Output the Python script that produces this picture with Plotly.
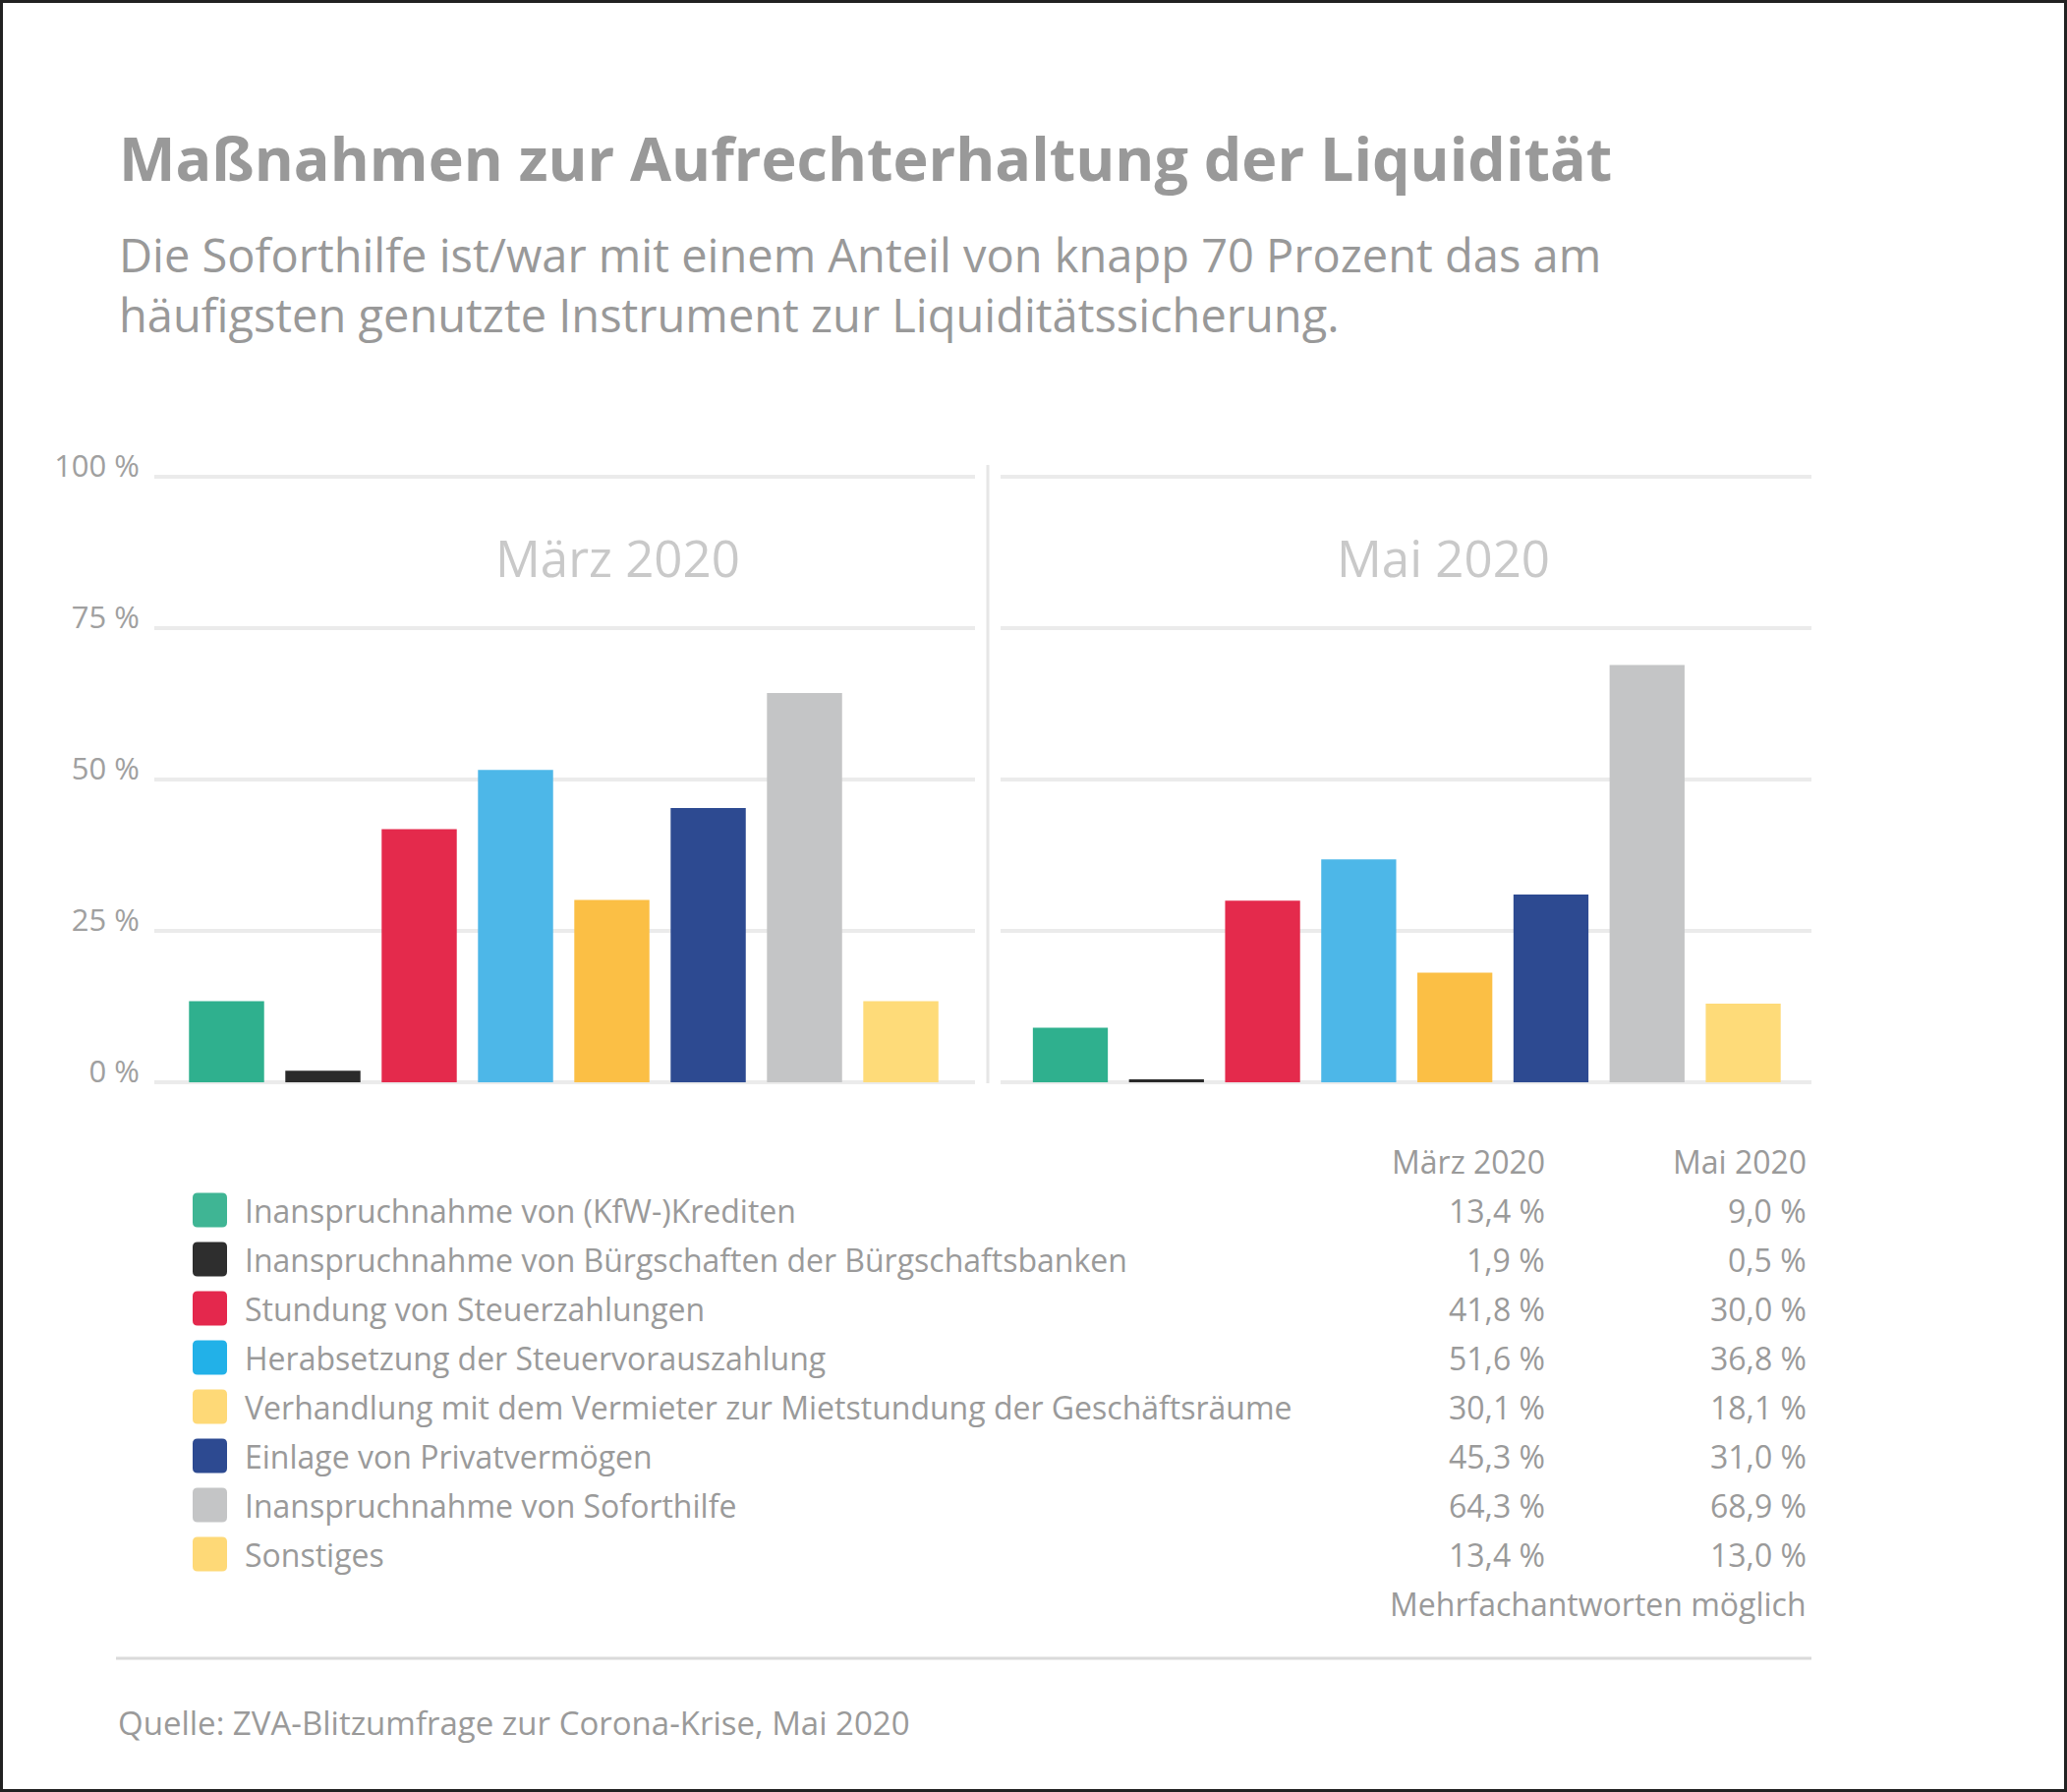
import plotly.graph_objects as go

W, H = 2103, 1823

categories = [
    "Inanspruchnahme von (KfW-)Krediten",
    "Inanspruchnahme von Bürgschaften der Bürgschaftsbanken",
    "Stundung von Steuerzahlungen",
    "Herabsetzung der Steuervorauszahlung",
    "Verhandlung mit dem Vermieter zur Mietstundung der Geschäftsräume",
    "Einlage von Privatvermögen",
    "Inanspruchnahme von Soforthilfe",
    "Sonstiges",
]
maerz_2020 = [13.4, 1.9, 41.8, 51.6, 30.1, 45.3, 64.3, 13.4]
mai_2020 = [9.0, 0.5, 30.0, 36.8, 18.1, 31.0, 68.9, 13.0]
period_labels = ["März 2020", "Mai 2020"]
y_tickvals = [0, 25, 50, 75, 100]
y_ticktext = ["0 %", "25 %", "50 %", "75 %", "100 %"]

bar_colors = ["#2fb08e", "#2a2a2a", "#e42a4c", "#4db7e8", "#fbbf45", "#2d4a91", "#c4c5c6", "#fedb79"]
swatch_colors = ["#3fb594", "#2e2e2e", "#e4284d", "#22b1e8", "#fed977", "#2d4a91", "#c4c5c6", "#fed977"]

FONT = "Open Sans"
GREY = "#9a9a9a"


def px(x):
    return x / W


def py(y):
    return 1 - y / H


def fmt(v):
    return f"{v:.1f}".replace(".", ",") + " %"


fig = go.Figure()
fig.add_trace(go.Bar(x=categories, y=maerz_2020, width=0.78, marker=dict(color=bar_colors, line=dict(width=0)),
                     xaxis="x", yaxis="y", showlegend=False, hoverinfo="skip"))
fig.add_trace(go.Bar(x=categories, y=mai_2020, width=0.78, marker=dict(color=bar_colors, line=dict(width=0)),
                     xaxis="x2", yaxis="y2", showlegend=False, hoverinfo="skip"))

# 0 % at y=1101 px, 100 % at y=485 px; range padded by 1 unit so edge gridlines render
ppu = (1101 - 485) / 100.0
ydom = [py(1101 + ppu), py(485 - ppu)]
common_y = dict(range=[-1, 101], domain=ydom, tickvals=y_tickvals, showgrid=True, gridcolor="#ebebeb",
                gridwidth=4, zeroline=False, showline=False, fixedrange=True, automargin=False)

fig.update_layout(
    width=W, height=H,
    margin=dict(l=0, r=0, t=0, b=0, pad=0),
    paper_bgcolor="white", plot_bgcolor="white",
    font=dict(family=FONT, color=GREY),
    bargap=0.22,
    xaxis=dict(domain=[px(157), px(992)], range=[-0.75, 7.77], type="category", showticklabels=False,
               showgrid=False, zeroline=False, showline=False, ticks="", automargin=False, fixedrange=True),
    xaxis2=dict(domain=[px(1018), px(1843)], range=[-0.726, 7.71], type="category", showticklabels=False,
                showgrid=False, zeroline=False, showline=False, ticks="", anchor="y2", automargin=False,
                fixedrange=True),
    yaxis=dict(**common_y, ticktext=y_ticktext, ticks="", ticklabelstandoff=14,
               tickfont=dict(family=FONT, size=31, color="#a0a0a0"), ticklabelshift=-11),
    yaxis2=dict(**common_y, showticklabels=False, anchor="x2"),
)

ann = []
ann.append(dict(text="<b>Maßnahmen zur Aufrechterhaltung der Liquidität</b>", x=px(119), y=py(161),
                xanchor="left", yanchor="middle", font=dict(size=61, color="#999999")))
ann.append(dict(text="Die Soforthilfe ist/war mit einem Anteil von knapp 70 Prozent das am", x=px(119), y=py(259),
                xanchor="left", yanchor="middle", font=dict(size=47, color="#999999")))
ann.append(dict(text="häufigsten genutzte Instrument zur Liquiditätssicherung.", x=px(119), y=py(320),
                xanchor="left", yanchor="middle", font=dict(size=47, color="#999999")))
ann.append(dict(text=period_labels[0], x=px(628), y=py(567), xanchor="center", yanchor="middle",
                font=dict(size=51, color="#c9c9c9")))
ann.append(dict(text=period_labels[1], x=px(1468), y=py(567), xanchor="center", yanchor="middle",
                font=dict(size=51, color="#c9c9c9")))
ann.append(dict(text=period_labels[0], x=px(1574), y=py(1181), xanchor="right", yanchor="middle",
                font=dict(size=32, color=GREY)))
ann.append(dict(text=period_labels[1], x=px(1840), y=py(1181), xanchor="right", yanchor="middle",
                font=dict(size=32, color=GREY)))

shapes = []
row0, step = 1231, 50.0
for i, cat in enumerate(categories):
    yc = row0 + step * i
    ann.append(dict(text=cat, x=px(247), y=py(yc), xanchor="left", yanchor="middle",
                    font=dict(size=32, color=GREY)))
    ann.append(dict(text=fmt(maerz_2020[i]), x=px(1574), y=py(yc), xanchor="right", yanchor="middle",
                    font=dict(size=32, color=GREY)))
    ann.append(dict(text=fmt(mai_2020[i]), x=px(1840), y=py(yc), xanchor="right", yanchor="middle",
                    font=dict(size=32, color=GREY)))
    x0, x1, y0, y1, r = 196, 231, yc - 17.5, yc + 17.5, 5
    path = (f"M {px(x0 + r)} {py(y0)} L {px(x1 - r)} {py(y0)} Q {px(x1)} {py(y0)} {px(x1)} {py(y0 + r)} "
            f"L {px(x1)} {py(y1 - r)} Q {px(x1)} {py(y1)} {px(x1 - r)} {py(y1)} "
            f"L {px(x0 + r)} {py(y1)} Q {px(x0)} {py(y1)} {px(x0)} {py(y1 - r)} "
            f"L {px(x0)} {py(y0 + r)} Q {px(x0)} {py(y0)} {px(x0 + r)} {py(y0)} Z")
    shapes.append(dict(type="path", path=path, xref="paper", yref="paper", fillcolor=swatch_colors[i],
                       line=dict(width=0)))

ann.append(dict(text="Mehrfachantworten möglich", x=px(1840), y=py(1631), xanchor="right", yanchor="middle",
                font=dict(size=32, color=GREY)))
ann.append(dict(text="Quelle: ZVA-Blitzumfrage zur Corona-Krise, Mai 2020", x=px(118), y=py(1752),
                xanchor="left", yanchor="middle", font=dict(size=33, color=GREY)))

for a in ann:
    a.update(xref="paper", yref="paper", showarrow=False)

shapes.append(dict(type="line", xref="paper", yref="paper", x0=px(1005), x1=px(1005), y0=py(473), y1=py(1102),
                   line=dict(color="#e6e6e6", width=3)))
shapes.append(dict(type="line", xref="paper", yref="paper", x0=px(118), x1=px(1843), y0=py(1687), y1=py(1687),
                   line=dict(color="#dadada", width=3)))
shapes.append(dict(type="rect", xref="paper", yref="paper", x0=px(1.5), x1=px(W - 1.5), y0=py(H - 1.5), y1=py(1.5),
                   line=dict(color="#222222", width=3), fillcolor="rgba(0,0,0,0)"))

fig.update_layout(annotations=ann, shapes=shapes)
fig.write_html("out.html", config={"displayModeBar": False},
               post_script="document.body.style.margin='0';document.body.style.overflow='hidden';")
